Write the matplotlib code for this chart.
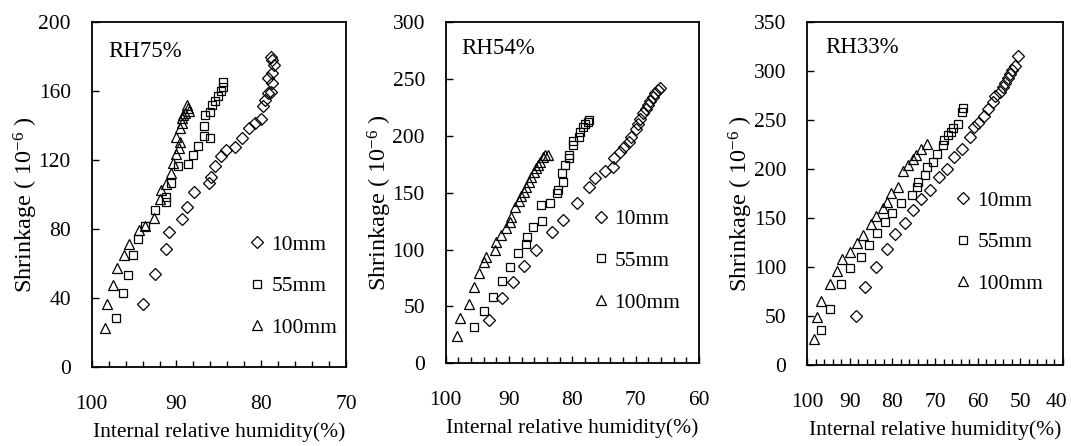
import matplotlib
matplotlib.use('Agg')
import matplotlib.pyplot as plt
from matplotlib.ticker import MultipleLocator
from matplotlib.transforms import ScaledTranslation

plt.rcParams['font.family'] = 'Liberation Serif'
plt.rcParams['mathtext.fontset'] = 'custom'
plt.rcParams['mathtext.rm'] = 'Liberation Serif'
plt.rcParams['mathtext.it'] = 'Liberation Serif:italic'

SIZES = ['10mm', '55mm', '100mm']

# --- RH75% ---
rh75_10_x = [94.0, 92.5, 91.2, 90.9, 89.4, 88.7, 87.9, 86.2, 85.9, 85.4, 84.8, 84.2, 83.1,
             82.3, 81.5, 80.7, 80.0, 79.8, 79.6, 79.2, 78.9, 78.7, 79.2, 78.7, 78.5, 78.7, 78.9]
rh75_10_y = [36.3, 53.9, 68.4, 78.4, 85.6, 92.9, 101.2, 106.5, 110.3, 116.5, 122.3, 125.8, 127.7,
             132.9, 138.4, 141.5, 144.0, 151.5, 154.8, 158.6, 159.6, 164.4, 167.3, 170.6, 175.1, 178.0, 179.5]

rh75_55_x = [97.1, 96.3, 95.7, 95.1, 94.5, 93.7, 92.5, 91.2, 91.2, 90.6, 89.8, 88.6, 88.1,
             87.5, 86.1, 86.7, 86.7, 86.6, 86.0, 85.8, 85.5, 85.1, 84.8, 84.5, 84.5]
rh75_55_y = [28.2, 42.7, 53.3, 64.9, 74.0, 81.7, 91.0, 95.5, 98.7, 106.5, 116.5, 117.7, 122.9,
             128.1, 132.5, 134.0, 140.0, 146.0, 148.0, 152.0, 154.2, 157.1, 160.0, 162.5, 165.0]

rh75_100_x = [98.4, 98.2, 97.5, 97.0, 96.2, 95.6, 94.4, 93.7, 92.7, 92.0, 91.8, 91.2, 90.6,
              90.4, 90.1, 89.7, 89.6, 90.0, 89.6, 89.4, 89.3, 89.2, 89.0, 88.5, 88.6, 88.7]
rh75_100_y = [22.4, 36.5, 47.5, 57.2, 64.9, 71.1, 79.4, 81.7, 86.2, 97.4, 102.6, 106.1, 112.6,
              118.1, 123.5, 126.8, 130.6, 133.5, 138.4, 141.3, 144.2, 146.1, 147.1, 148.6, 150.0, 151.9]

# --- RH54% ---
rh54_10_x = [93.1, 91.1, 89.4, 87.6, 85.8, 83.2, 81.5, 79.3, 77.3, 76.4, 74.8, 73.6, 73.4, 72.5,
             71.8, 71.1, 70.7, 70.0, 69.7, 69.3, 68.9, 68.4, 68.1, 67.7, 67.3, 66.9, 66.5, 66.1]
rh54_10_y = [38.1, 57.7, 71.2, 85.9, 99.4, 115.7, 126.0, 141.2, 154.7, 163.2, 169.1, 172.9, 180.2, 185.5,
             189.9, 194.8, 199.2, 205.7, 210.4, 214.5, 219.8, 223.3, 227.1, 230.8, 234.4, 237.3, 240.2, 241.7]

rh54_55_x = [95.5, 93.9, 92.6, 91.1, 89.8, 88.6, 87.4, 87.2, 86.2, 84.8, 84.9, 83.6, 82.4, 82.3,
             81.5, 81.6, 81.1, 80.6, 80.5, 79.9, 79.9, 78.9, 78.8, 78.4, 78.0, 77.6, 77.4]
rh54_55_y = [32.3, 46.3, 58.6, 72.4, 85.0, 97.3, 104.9, 111.3, 119.6, 125.4, 139.2, 140.7, 149.5, 152.4,
             159.7, 167.6, 174.3, 180.2, 183.1, 191.9, 195.7, 199.2, 203.6, 208.0, 210.4, 212.4, 213.9]

rh54_100_x = [98.2, 97.7, 96.4, 95.6, 94.8, 94.0, 93.6, 92.2, 92.1, 91.3, 90.5, 89.8, 89.7, 89.1,
              88.4, 88.1, 87.6, 87.3, 86.8, 86.5, 86.0, 85.7, 85.5, 85.1, 84.7, 84.4, 83.9]
rh54_100_y = [24.4, 39.6, 52.2, 66.8, 79.1, 88.8, 93.8, 99.6, 106.9, 112.8, 118.7, 124.5, 128.9, 137.2,
              143.0, 147.1, 150.9, 155.3, 159.7, 164.1, 168.5, 171.4, 174.3, 177.2, 181.1, 183.1, 183.1]

# --- RH33% ---
rh33_10_x = [88.6, 86.4, 83.8, 81.4, 79.5, 77.1, 75.2, 73.2, 71.1, 69.1, 67.1, 65.6, 63.7, 61.7,
             60.9, 59.9, 58.5, 57.6, 56.5, 55.8, 54.8, 54.0, 53.5, 52.9, 52.5, 51.9, 51.3, 50.5]
rh33_10_y = [50.3, 79.3, 100.3, 118.0, 133.4, 145.2, 158.2, 169.1, 178.6, 191.5, 199.7, 212.6, 220.1, 232.3,
             242.5, 247.3, 254.1, 261.2, 268.7, 274.5, 278.9, 284.0, 288.1, 292.6, 296.9, 301.0, 305.1, 315.3]

rh33_55_x = [96.9, 94.7, 92.0, 90.0, 87.5, 85.5, 83.6, 81.8, 80.1, 77.9, 75.4, 74.2, 74.0,
             72.4, 72.0, 70.5, 69.5, 68.1, 67.9, 66.9, 66.3, 65.8, 64.6, 63.7, 63.4]
rh33_55_y = [35.7, 57.1, 82.3, 99.3, 110.5, 122.4, 134.4, 146.3, 155.4, 165.0, 173.5, 182.0, 187.0,
             193.9, 202.4, 207.5, 215.0, 224.5, 229.6, 234.7, 238.1, 241.5, 245.9, 258.5, 261.9]

rh33_100_x = [98.4, 97.7, 96.7, 94.7, 93.0, 91.8, 90.0, 88.3, 86.9, 85.1, 83.8, 82.2, 81.4, 80.3,
              78.7, 77.5, 76.3, 75.2, 74.4, 73.2, 72.0]
rh33_100_y = [26.5, 48.7, 65.6, 82.3, 96.2, 108.2, 115.0, 124.8, 132.7, 143.6, 152.0, 159.9, 166.0, 175.2,
              181.9, 198.0, 204.1, 209.9, 214.3, 220.1, 225.5]

# ustawienia paneli: pozycja osi, zakresy, podpis, legenda
panels = [
    dict(rect=[0.0856, 0.1771, 0.2375, 0.7735], title='RH75%', xlim=(100, 70), ylim=(0, 200), ystep=40,
         text_xy=(0.064, 0.916), leg_xy=(0.617, 0.234),
         data=[(rh75_10_x, rh75_10_y), (rh75_55_x, rh75_55_y), (rh75_100_x, rh75_100_y)]),
    dict(rect=[0.4162, 0.1852, 0.2365, 0.7655], title='RH54%', xlim=(100, 60), ylim=(0, 300), ystep=50,
         text_xy=(0.063, 0.923), leg_xy=(0.577, 0.300),
         data=[(rh54_10_x, rh54_10_y), (rh54_55_x, rh54_55_y), (rh54_100_x, rh54_100_y)]),
    dict(rect=[0.7538, 0.1816, 0.2385, 0.7690], title='RH33%', xlim=(100, 40), ylim=(0, 350), ystep=50,
         text_xy=(0.069, 0.926), leg_xy=(0.577, 0.358),
         data=[(rh33_10_x, rh33_10_y), (rh33_55_x, rh33_55_y), (rh33_100_x, rh33_100_y)]),
]

markers = [dict(marker='D', ms=6.0), dict(marker='s', ms=6.2), dict(marker='^', ms=7.2)]

FS = 15.5

fig = plt.figure(figsize=(10.71, 4.46), dpi=100)

for p in panels:
    ax = fig.add_axes(p['rect'])
    for (x, y), m, lab in zip(p['data'], markers, SIZES):
        ax.plot(x, y, ls='none', mfc='none', mec='black', mew=0.9, label=lab, **m)

    ax.set_xlim(*p['xlim'])
    ax.set_ylim(*p['ylim'])
    ax.xaxis.set_major_locator(MultipleLocator(10))
    ax.xaxis.set_minor_locator(MultipleLocator(2))
    ax.yaxis.set_major_locator(MultipleLocator(p['ystep']))
    ax.tick_params(axis='both', which='both', direction='in', top=False, right=False,
                   labelsize=FS, width=1.0)
    ax.tick_params(axis='x', which='major', length=5, pad=20)
    ax.tick_params(axis='x', which='minor', length=4.5)
    ax.tick_params(axis='y', which='major', length=5, pad=15)
    for s in ax.spines.values():
        s.set_linewidth(1.3)

    ax.set_xlabel('Internal relative humidity(%)', fontsize=FS, labelpad=6)
    ax.set_ylabel(r'Shrinkage ( 10$^{-6}$ )', fontsize=17.5, va='center')
    ax.yaxis.set_label_coords(-0.26, 0.47)

    ax.text(*p['text_xy'], p['title'], transform=ax.transAxes, fontsize=16.5, va='center', ha='left')

    ax.legend(loc='center left', bbox_to_anchor=p['leg_xy'], frameon=False, fontsize=FS,
              handlelength=0.8, handletextpad=0.25, labelspacing=1.0, borderpad=0, borderaxespad=0)

# etykieta "40" na ostatnim panelu lekko w lewo, zeby nie wychodzila poza rysunek
fig.canvas.draw()
ax3 = fig.axes[-1]
for loc, tick in zip(ax3.xaxis.get_majorticklocs(), ax3.xaxis.get_major_ticks()):
    if abs(loc - 40) < 1e-6:
        lbl = tick.label1
        lbl.set_transform(lbl.get_transform() + ScaledTranslation(-6 / 100, 0, fig.dpi_scale_trans))

fig.savefig('out.png', dpi=100)
